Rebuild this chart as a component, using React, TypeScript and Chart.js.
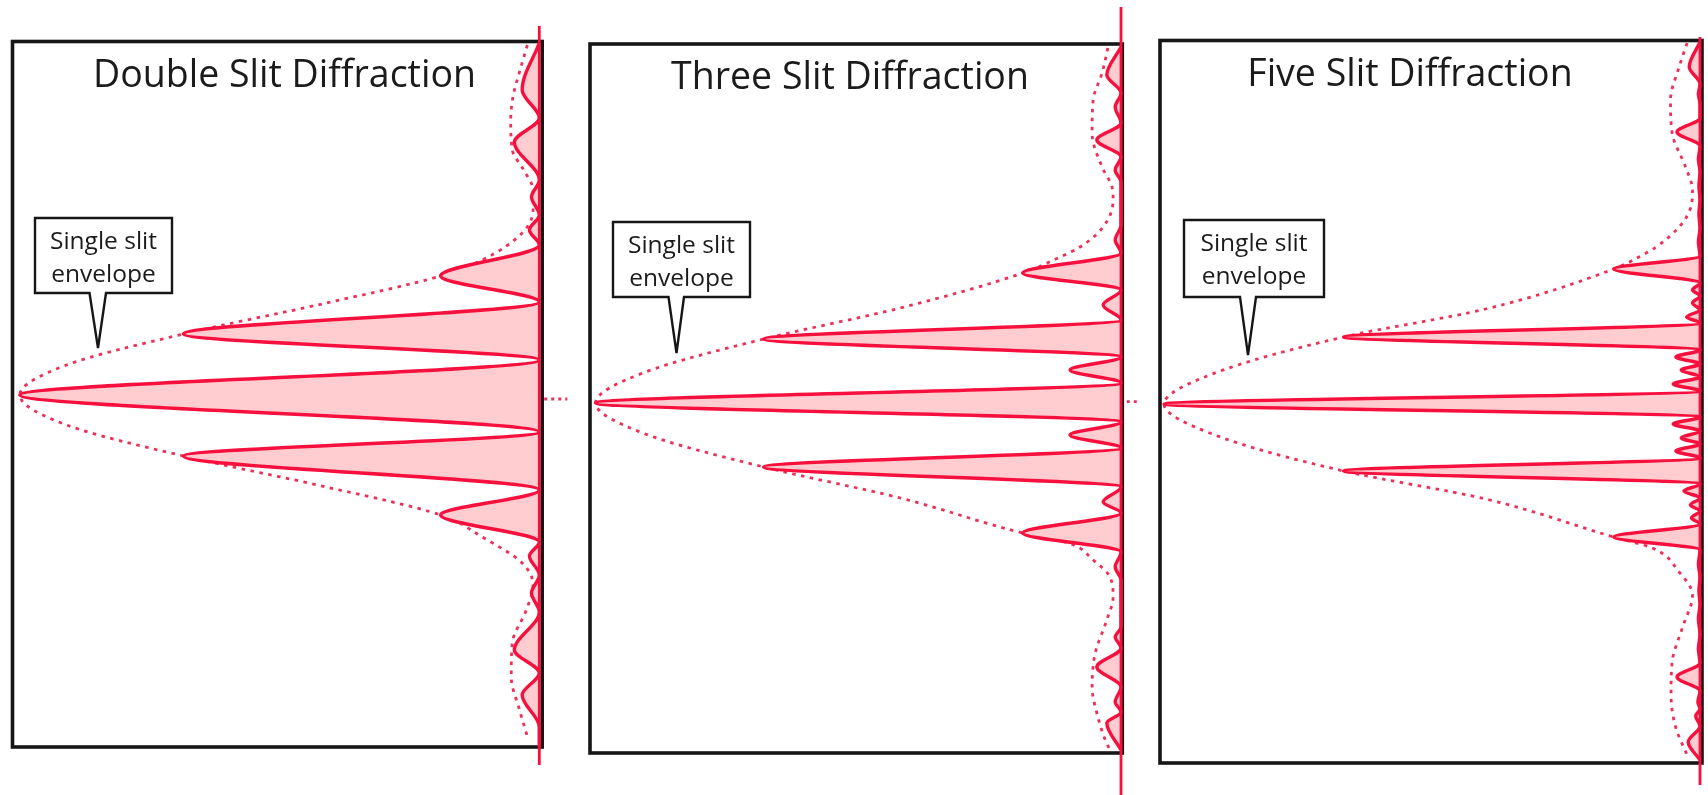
import React, { useEffect, useRef } from "react";
import { Chart, registerables } from "chart.js";

Chart.register(...registerables);

// Position on the screen (0 = central maximum, positive = upward, arbitrary units)
// and relative intensity (central maximum = 1).

// Double slit
const doublePos = [3.52, 3.05, 2.77, 2.53, 2.15, 1.98, 1.8, 1.65, 1.5, 1.19, 0.93, 0.61, 0.35, 0, -0.37, -0.61, -0.95, -1.2, -1.47, -1.61, -1.8, -1.98, -2.17, -2.55, -2.78, -3.0, -3.32, -3.52];
const doubleInt = [0, 0.033, 0, 0.048, 0, 0.015, 0, 0.019, 0, 0.19, 0, 0.685, 0, 1, 0, 0.685, 0, 0.19, 0, 0.019, 0, 0.015, 0, 0.048, 0, 0.033, 0, 0];
const doubleEnvPos = [3.5, 3.25, 3.0, 2.75, 2.45, 2.25, 2.05, 1.85, 1.62, 1.35, 1.19, 0.92, 0.61, 0.3, 0, -0.3, -0.61, -0.92, -1.2, -1.42, -1.68, -1.9, -2.15, -2.48, -2.82, -3.15, -3.45];
const doubleEnvInt = [0.023, 0.037, 0.05, 0.055, 0.052, 0.03, 0.012, 0.012, 0.033, 0.11, 0.19, 0.41, 0.685, 0.91, 1, 0.91, 0.685, 0.41, 0.19, 0.11, 0.033, 0.012, 0.025, 0.052, 0.054, 0.038, 0.021];

// Three slits
const threePos = [3.56, 3.28, 3.1, 2.96, 2.8, 2.63, 2.46, 2.33, 2.21, 1.78, 1.63, 1.5, 1.3, 1.13, 0.98, 0.83, 0.64, 0.46, 0.33, 0.2, 0, -0.19, -0.32, -0.45, -0.64, -0.84, -0.99, -1.1, -1.3, -1.49, -1.64, -1.77, -2.24, -2.34, -2.45, -2.64, -2.84, -2.99, -3.09, -3.2, -3.47];
const threeInt = [0, 0.027, 0, 0.011, 0, 0.046, 0, 0.011, 0, 0, 0.011, 0, 0.187, 0, 0.034, 0, 0.68, 0, 0.097, 0, 1, 0, 0.097, 0, 0.68, 0, 0.034, 0, 0.187, 0, 0.011, 0, 0, 0.011, 0, 0.046, 0, 0.011, 0, 0.027, 0];
const threeEnvPos = [3.55, 3.3, 3.03, 2.7, 2.36, 2.16, 2.03, 1.76, 1.56, 1.46, 1.3, 0.95, 0.64, 0.3, 0, -0.3, -0.64, -0.95, -1.3, -1.4, -1.57, -1.74, -1.94, -2.17, -2.5, -2.84, -3.1, -3.37, -3.47];
const threeEnvInt = [0.025, 0.036, 0.053, 0.055, 0.036, 0.017, 0.015, 0.034, 0.078, 0.116, 0.187, 0.42, 0.68, 0.91, 1, 0.91, 0.68, 0.42, 0.187, 0.1, 0.053, 0.021, 0.015, 0.027, 0.049, 0.055, 0.046, 0.03, 0.021];

// Five slits
const fivePos = [3.62, 3.37, 3.2, 3.1, 3.0, 2.86, 2.72, 2.58, 2.45, 2.32, 2.18, 2.05, 1.9, 1.76, 1.62, 1.48, 1.35, 1.21, 1.14, 1.08, 1.01, 0.94, 0.87, 0.81, 0.67, 0.54, 0.47, 0.4, 0.34, 0.27, 0.2, 0.13, 0, -0.13, -0.2, -0.27, -0.34, -0.4, -0.47, -0.54, -0.67, -0.8, -0.87, -0.94, -1.01, -1.07, -1.14, -1.2, -1.33, -1.46, -1.6, -1.73, -1.87, -2.0, -2.15, -2.3, -2.45, -2.59, -2.73, -2.87, -2.98, -3.05, -3.12, -3.22, -3.38, -3.56];
const fiveInt = [0, 0.02, 0, 0.003, 0, 0, 0.043, 0, 0.003, 0, 0.002, 0, 0.002, 0, 0.003, 0, 0.161, 0, 0.014, 0, 0.014, 0, 0.025, 0, 0.665, 0, 0.045, 0, 0.035, 0, 0.05, 0, 1, 0, 0.05, 0, 0.035, 0, 0.045, 0, 0.665, 0, 0.03, 0, 0.018, 0, 0.016, 0, 0.161, 0, 0.003, 0, 0.002, 0, 0.003, 0, 0.003, 0, 0.043, 0, 0.004, 0, 0.008, 0, 0.022, 0];
const fiveEnvPos = [3.61, 3.37, 3.04, 2.71, 2.37, 2.14, 1.97, 1.77, 1.57, 1.47, 1.35, 0.95, 0.67, 0.3, 0, -0.3, -0.67, -0.95, -1.33, -1.44, -1.68, -1.91, -2.24, -2.58, -2.91, -3.24, -3.51];
const fiveEnvInt = [0.024, 0.039, 0.055, 0.052, 0.027, 0.014, 0.017, 0.039, 0.082, 0.114, 0.161, 0.4, 0.665, 0.91, 1, 0.91, 0.665, 0.4, 0.161, 0.089, 0.039, 0.014, 0.033, 0.052, 0.054, 0.045, 0.024];

const panelTitles = ["Double Slit Diffraction", "Three Slit Diffraction", "Five Slit Diffraction"];
const calloutLines = ["Single slit", "envelope"];

// ---- layout & style ----
const PAGE_W = 1708;
const PAGE_H = 795;
const POS_PX = 100; // pixels per position unit
const RED = "#f7103d";
const DOT_RED = "#ee2f57";
const PINK = "#ffcdd0";
const INK = "#161616";
const FONT = '"Open Sans", "Noto Sans", sans-serif';

type Layout = {
  canvasLeft: number;
  canvasWidth: number;
  baseline: number;
  unit: number;
  center: number;
  axisTop: number;
  axisBottom: number;
  marker: null | { y: number; from: number; to: number };
  frame: { left: number; top: number; right: number; bottom: number };
  title: { center: number; baseline: number };
  callout: { left: number; top: number; right: number; bottom: number; p1: number; p2: number; tipX: number; tipY: number };
};

const layouts: Layout[] = [
  {
    canvasLeft: 0, canvasWidth: 580, baseline: 539.3, unit: 519.5, center: 395,
    axisTop: 3.69, axisBottom: -3.7,
    marker: { y: -0.04, from: 0.004, to: -0.054 },
    frame: { left: 12.5, top: 41.5, right: 542.2, bottom: 747 },
    title: { center: 284.5, baseline: 87 },
    callout: { left: 35, top: 218, right: 172, bottom: 293, p1: 89.5, p2: 106, tipX: 98, tipY: 348 },
  },
  {
    canvasLeft: 580, canvasWidth: 578, baseline: 1121, unit: 525.5, center: 403,
    axisTop: 3.96, axisBottom: -3.95,
    marker: { y: 0.013, from: -0.011, to: -0.036 },
    frame: { left: 590, top: 44, right: 1122.3, bottom: 753 },
    title: { center: 850, baseline: 89 },
    callout: { left: 613, top: 222, right: 750, bottom: 297, p1: 668.5, p2: 684, tipX: 676.5, tipY: 353 },
  },
  {
    canvasLeft: 1150, canvasWidth: 558, baseline: 1700, unit: 536, center: 404,
    axisTop: 3.67, axisBottom: -3.81,
    marker: null,
    frame: { left: 1160, top: 40.5, right: 1702, bottom: 763 },
    title: { center: 1410, baseline: 86 },
    callout: { left: 1184, top: 220, right: 1324, bottom: 297, p1: 1240, p2: 1256, tipX: 1248, tipY: 355 },
  },
];

const series = [
  { pos: doublePos, val: doubleInt, envPos: doubleEnvPos, envVal: doubleEnvInt },
  { pos: threePos, val: threeInt, envPos: threeEnvPos, envVal: threeEnvInt },
  { pos: fivePos, val: fiveInt, envPos: fiveEnvPos, envVal: fiveEnvInt },
];

const toPoints = (pos: number[], val: number[]) => pos.map((p, i) => ({ x: val[i], y: p }));

// Draws the black box around each pattern (behind the curves)
const framePlugin = {
  id: "panelFrame",
  beforeDatasetsDraw(chart: any, _args: any, opts: any) {
    const r = opts.rect;
    if (!r) return;
    const ctx = chart.ctx;
    ctx.save();
    ctx.strokeStyle = INK;
    ctx.lineWidth = 3.6;
    ctx.strokeRect(r.left, r.top, r.right - r.left, r.bottom - r.top);
    ctx.restore();
  },
};

function Panel({ index }: { index: number }) {
  const ref = useRef<HTMLCanvasElement | null>(null);
  const L = layouts[index];
  const S = series[index];

  useEffect(() => {
    const canvas = ref.current;
    if (!canvas) return;
    const xMax = (L.baseline - L.canvasLeft) / L.unit;
    const xMin = -(L.canvasLeft + L.canvasWidth - L.baseline) / L.unit;
    const yMax = L.center / POS_PX;
    const yMin = (L.center - PAGE_H) / POS_PX;

    const datasets: any[] = [
      {
        label: "pattern",
        data: toPoints(S.pos, S.val),
        borderColor: RED,
        borderWidth: 3.4,
        backgroundColor: PINK,
        fill: "origin",
        cubicInterpolationMode: "monotone",
        pointRadius: 0,
        order: 1,
      },
      {
        label: "envelope",
        data: toPoints(S.envPos, S.envVal),
        borderColor: DOT_RED,
        borderWidth: 2.8,
        borderDash: [3.5, 5.5],
        borderCapStyle: "butt",
        fill: false,
        cubicInterpolationMode: "monotone",
        pointRadius: 0,
        order: 2,
      },
      {
        label: "axis",
        data: [{ x: 0, y: L.axisTop }, { x: 0, y: L.axisBottom }],
        borderColor: RED,
        borderWidth: 2.8,
        fill: false,
        pointRadius: 0,
        order: 0,
      },
    ];
    if (L.marker) {
      datasets.push({
        label: "centre",
        data: [{ x: L.marker.from, y: L.marker.y }, { x: L.marker.to, y: L.marker.y }],
        borderColor: DOT_RED,
        borderWidth: 2.8,
        borderDash: [3, 4],
        fill: false,
        pointRadius: 0,
        order: 3,
      });
    }

    const chart = new Chart(canvas, {
      type: "line",
      data: { datasets },
      options: {
        indexAxis: "y",
        animation: false,
        responsive: false,
        events: [],
        layout: { padding: 0 },
        plugins: {
          legend: { display: false },
          tooltip: { enabled: false },
          panelFrame: {
            rect: {
              left: L.frame.left - L.canvasLeft,
              right: L.frame.right - L.canvasLeft,
              top: L.frame.top,
              bottom: L.frame.bottom,
            },
          },
        } as any,
        scales: {
          x: { type: "linear", reverse: true, min: xMin, max: xMax, display: false },
          y: { type: "linear", min: yMin, max: yMax, display: false },
        },
      },
      plugins: [framePlugin],
    });
    return () => chart.destroy();
  }, [index]);

  const c = L.callout;
  const pad = 3;
  const svgW = c.right - c.left + pad * 2;
  const svgH = c.tipY - c.top + pad * 2;
  const lx = (v: number) => v - c.left + pad;
  const ly = (v: number) => v - c.top + pad;
  const calloutPath =
    `M ${lx(c.left)} ${ly(c.top)} H ${lx(c.right)} V ${ly(c.bottom)} H ${lx(c.p2)} ` +
    `L ${lx(c.tipX)} ${ly(c.tipY)} L ${lx(c.p1)} ${ly(c.bottom)} H ${lx(c.left)} Z`;

  const titleSize = 37.5;
  const calloutSize = 24.5;
  const calloutLineH = 33;

  return (
    <>
      <canvas
        ref={ref}
        width={L.canvasWidth}
        height={PAGE_H}
        style={{ position: "absolute", left: L.canvasLeft, top: 0, width: L.canvasWidth, height: PAGE_H }}
      />
      <div
        style={{
          position: "absolute",
          left: L.title.center - 300,
          width: 600,
          top: L.title.baseline - titleSize * 0.888,
          fontSize: titleSize,
          lineHeight: 1,
          textAlign: "center",
          whiteSpace: "nowrap",
          color: "#1b1b1b",
          fontFamily: FONT,
        }}
      >
        {panelTitles[index]}
      </div>
      <svg
        width={svgW}
        height={svgH}
        style={{ position: "absolute", left: c.left - pad, top: c.top - pad, overflow: "visible" }}
      >
        <path d={calloutPath} fill="#ffffff" stroke={INK} strokeWidth={2.4} strokeLinejoin="miter" />
      </svg>
      <div
        style={{
          position: "absolute",
          left: c.left,
          width: c.right - c.left,
          top: c.top + 31 - ((calloutLineH - calloutSize * 1.362) / 2 + calloutSize * 1.069),
          fontSize: calloutSize,
          lineHeight: `${calloutLineH}px`,
          textAlign: "center",
          color: "#1b1b1b",
          fontFamily: FONT,
          whiteSpace: "nowrap",
        }}
      >
        {calloutLines.map((t) => (
          <div key={t}>{t}</div>
        ))}
      </div>
    </>
  );
}

export default function App() {
  return (
    <div
      style={{
        position: "absolute",
        left: 0,
        top: 0,
        width: PAGE_W,
        height: PAGE_H,
        background: "#ffffff",
        overflow: "hidden",
      }}
    >
      {layouts.map((_, i) => (
        <Panel key={i} index={i} />
      ))}
    </div>
  );
}
